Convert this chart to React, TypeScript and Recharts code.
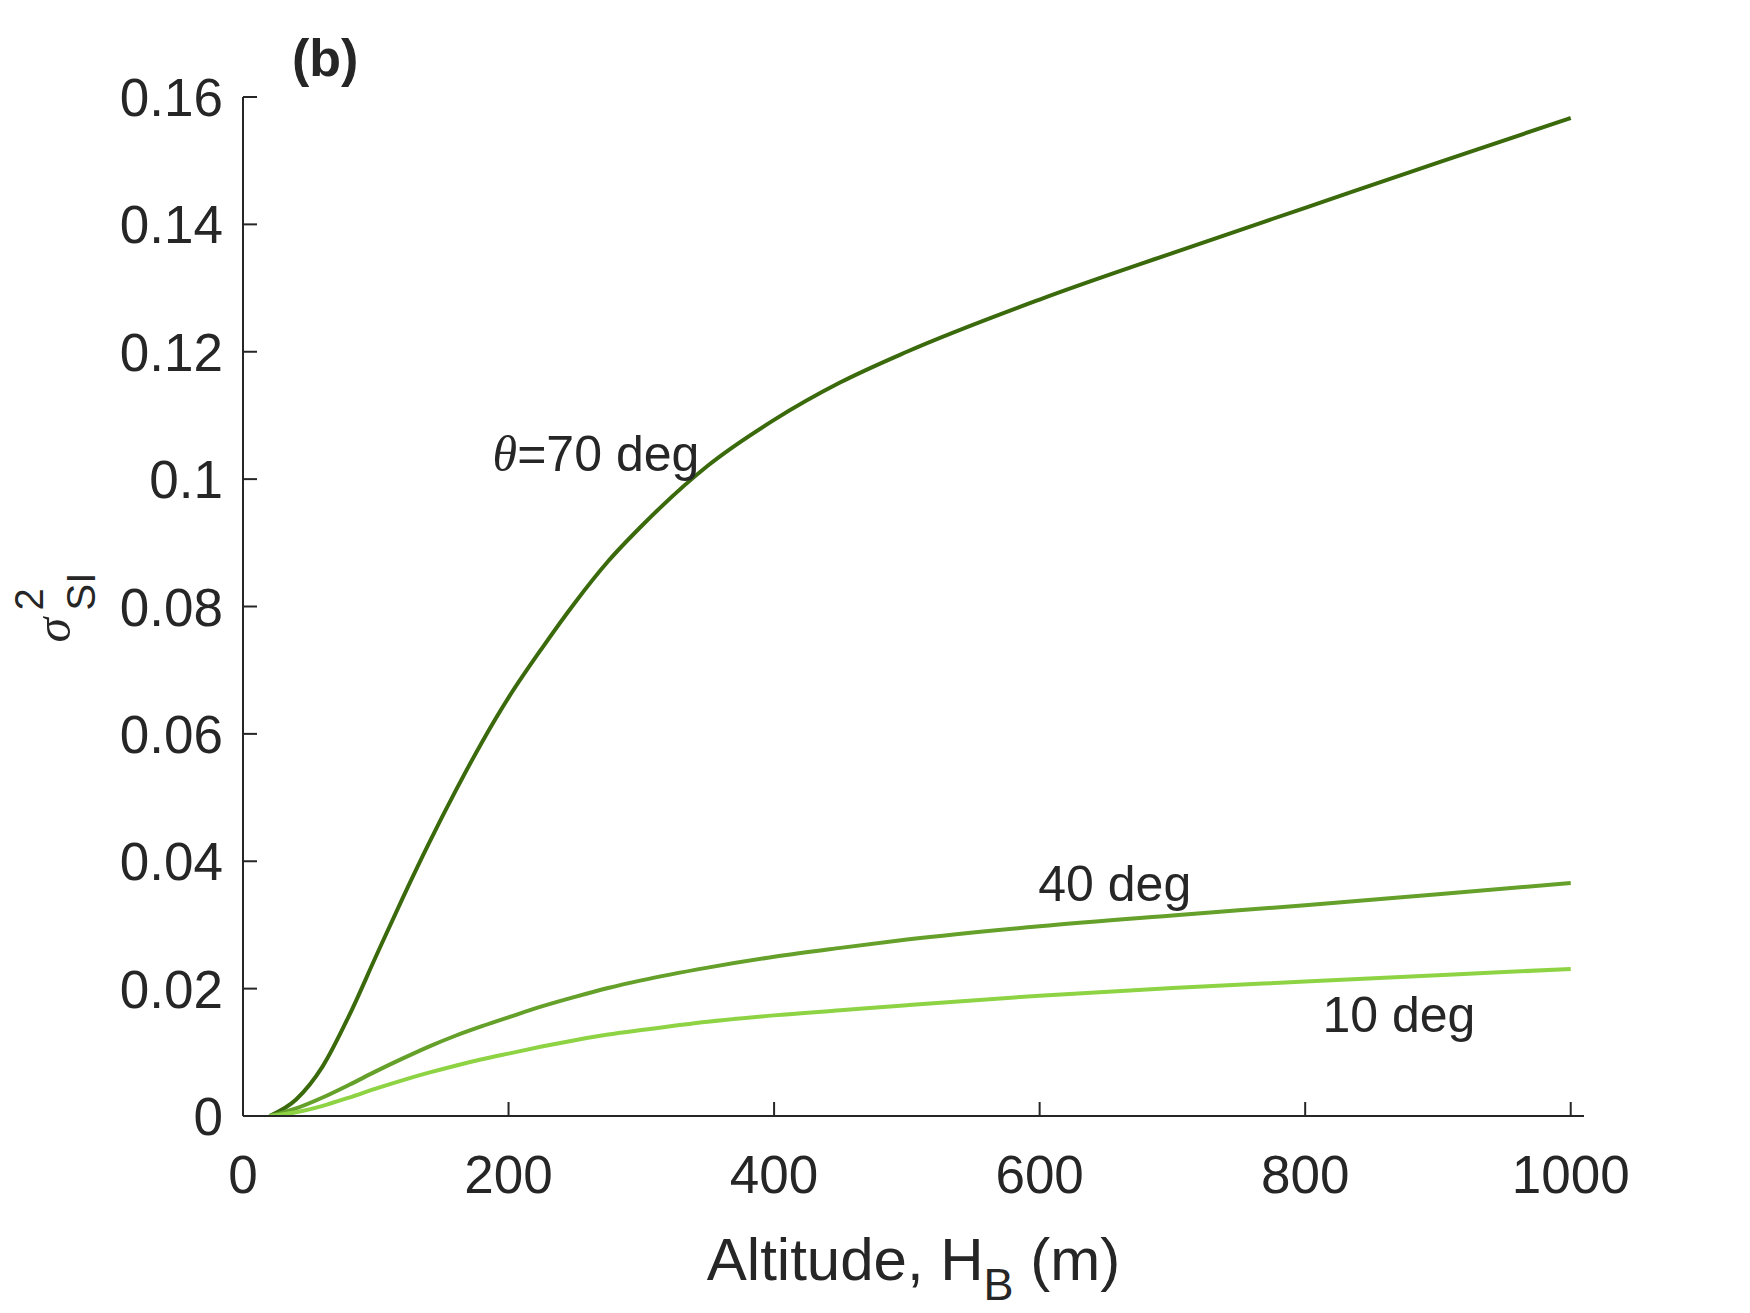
import { LineChart, Line, XAxis, YAxis, ReferenceDot } from 'recharts';

const FONT = '"Liberation Sans", Arial, Helvetica, sans-serif';
const INK = '#262626';

const altitude = [20, 40, 60, 80, 100, 120, 140, 160, 180, 200, 225, 250, 275, 300, 350, 400, 450, 500, 600, 700, 800, 900, 1000];
const sigma70 = [0, 0.0026, 0.0078, 0.0158, 0.025, 0.0341, 0.0428, 0.051, 0.0587, 0.0657, 0.0734, 0.0806, 0.0871, 0.0926, 0.1021, 0.1093, 0.1152, 0.12, 0.1282, 0.1355, 0.1426, 0.1497, 0.1567];
const sigma40 = [0, 0.0012, 0.0029, 0.0049, 0.007, 0.009, 0.0109, 0.0126, 0.0141, 0.0155, 0.0172, 0.0187, 0.0201, 0.0213, 0.0233, 0.025, 0.0264, 0.0277, 0.0298, 0.0315, 0.0331, 0.0348, 0.0366];
const sigma10 = [0, 0.0006, 0.0016, 0.0029, 0.0043, 0.0056, 0.0068, 0.0079, 0.0089, 0.0098, 0.0109, 0.0119, 0.0128, 0.0135, 0.0148, 0.0158, 0.0166, 0.0174, 0.0189, 0.0201, 0.0211, 0.0221, 0.0231];

const xTicks = [0, 200, 400, 600, 800, 1000];
const yTicks = [0, 0.02, 0.04, 0.06, 0.08, 0.1, 0.12, 0.14, 0.16];

const seriesColors = { s70: '#3a6a0c', s40: '#64a02a', s10: '#8dd344' };

const data = altitude.map((h, i) => ({ h, s70: sigma70[i], s40: sigma40[i], s10: sigma10[i] }));

const TICK = 14;

function LeftTick({ x, y, payload }: any) {
  return (
    <g>
      <line x1={x} x2={x + TICK} y1={y} y2={y} stroke={INK} strokeWidth={2} />
      <text x={x - 20} y={y + 19} textAnchor="end" fontSize={53} fill={INK} fontFamily={FONT}>
        {String(payload.value)}
      </text>
    </g>
  );
}

function BottomTick({ x, y, payload }: any) {
  return (
    <g>
      <line x1={x} x2={x} y1={y} y2={y - TICK} stroke={INK} strokeWidth={2} />
      <text x={x} y={y + 77} textAnchor="middle" fontSize={53} fill={INK} fontFamily={FONT}>
        {String(payload.value)}
      </text>
    </g>
  );
}

function TopTick({ x, y }: any) {
  return <line x1={x} x2={x} y1={y} y2={y + TICK} stroke={INK} strokeWidth={2} />;
}

function RightTick({ x, y }: any) {
  return <line x1={x} x2={x - TICK} y1={y} y2={y} stroke={INK} strokeWidth={2} />;
}

function note(text: any) {
  return {
    content: (p: any) => (
      <text x={p.viewBox.x} y={p.viewBox.y} fontSize={50} fill={INK} fontFamily={FONT}>
        {text}
      </text>
    ),
  };
}

function YLabel(p: any) {
  const vb = p.viewBox;
  const bx = vb.x - 38;
  const by = vb.y + vb.height / 2 + 36;
  return (
    <g transform={`translate(${bx}, ${by}) rotate(-90)`} fill={INK} fontFamily={FONT}>
      <text x={0} y={0} fontSize={50} fontStyle="italic" fontFamily='"Liberation Serif", serif'>σ</text>
      <text x={32} y={-27} fontSize={40}>2</text>
      <text x={32} y={25} fontSize={40}>SI</text>
    </g>
  );
}

export default function App() {
  return (
    <div style={{ width: 1742, height: 1305, background: '#fff', fontFamily: FONT }}>
      <LineChart width={1742} height={1305} data={data} margin={{ top: 89, right: 166, bottom: 77, left: 100 }}>
        <XAxis
          dataKey="h"
          type="number"
          domain={[0, 1010]}
          ticks={xTicks}
          interval={0}
          allowDataOverflow
          height={120}
          tickSize={0}
          tickMargin={0}
          tickLine={false}
          axisLine={{ stroke: INK, strokeWidth: 2 }}
          tick={<BottomTick />}
          label={{
            content: (p: any) => (
              <text x={p.viewBox.x + p.viewBox.width / 2} y={p.viewBox.y + 164} textAnchor="middle" fontSize={60} fill={INK} fontFamily={FONT}>
                Altitude, H
                <tspan dy={20} fontSize={45}>B</tspan>
                <tspan dy={-20} fontSize={60}> (m)</tspan>
              </text>
            ),
          }}
        />
        <XAxis
          xAxisId="top"
          dataKey="h"
          type="number"
          orientation="top"
          domain={[0, 1010]}
          ticks={xTicks}
          interval={0}
          allowDataOverflow
          height={0}
          tickSize={0}
          tickMargin={0}
          tickLine={false}
          axisLine={{ stroke: INK, strokeWidth: 2 }}
          tick={<TopTick />}
        />
        <YAxis
          type="number"
          domain={[0, 0.16]}
          ticks={yTicks}
          interval={0}
          allowDataOverflow
          width={135}
          tickSize={0}
          tickMargin={0}
          tickLine={false}
          axisLine={{ stroke: INK, strokeWidth: 2 }}
          tick={<LeftTick />}
          label={{ content: YLabel }}
        />
        <YAxis
          yAxisId="right"
          orientation="right"
          type="number"
          domain={[0, 0.16]}
          ticks={yTicks}
          interval={0}
          allowDataOverflow
          width={0}
          tickSize={0}
          tickMargin={0}
          tickLine={false}
          axisLine={{ stroke: INK, strokeWidth: 2 }}
          tick={<RightTick />}
        />
        <Line type="monotone" dataKey="s70" stroke={seriesColors.s70} strokeWidth={4} dot={false} isAnimationActive={false} />
        <Line type="monotone" dataKey="s40" stroke={seriesColors.s40} strokeWidth={4} dot={false} isAnimationActive={false} />
        <Line type="monotone" dataKey="s10" stroke={seriesColors.s10} strokeWidth={4} dot={false} isAnimationActive={false} />
        <ReferenceDot
          x={188}
          y={0.1012}
          r={0}
          fill="none"
          stroke="none"
          label={note(
            <>
              <tspan fontStyle="italic" fontFamily='"Liberation Serif", serif'>θ</tspan>=70 deg
            </>
          )}
        />
        <ReferenceDot x={599} y={0.0337} r={0} fill="none" stroke="none" label={note('40 deg')} />
        <ReferenceDot x={813} y={0.0132} r={0} fill="none" stroke="none" label={note('10 deg')} />
        <text x={284} y={68} fontSize={52} fontWeight="bold" fill={INK} fontFamily={FONT}>
          (b)
        </text>
      </LineChart>
    </div>
  );
}
